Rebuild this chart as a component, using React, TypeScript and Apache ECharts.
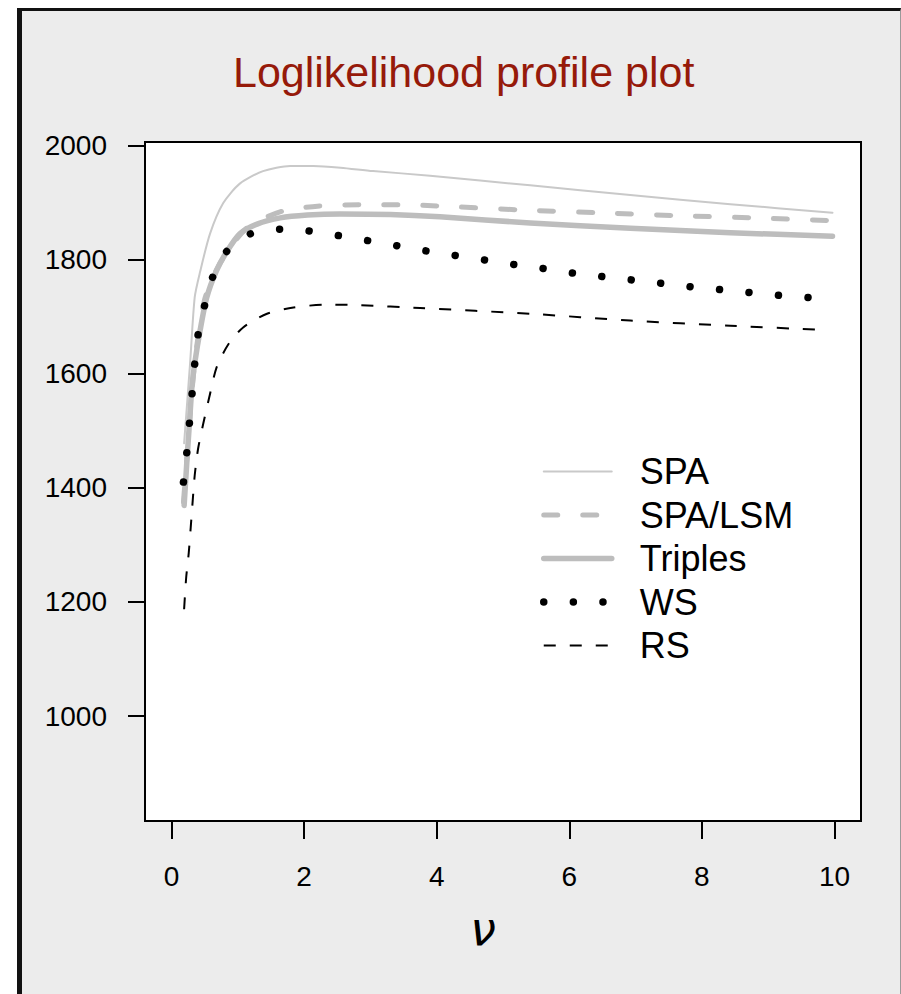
import React, { useEffect, useRef } from "react";
import * as echarts from "echarts";

const FONT = "'Liberation Sans', Arial, Helvetica, sans-serif";

const titleText = "Loglikelihood profile plot";
const xAxisName = "ν";
const xTicks = [0, 2, 4, 6, 8, 10];
const yTicks = [1000, 1200, 1400, 1600, 1800, 2000];

const spaX = [0.19, 0.28, 0.35, 0.43, 0.58, 0.78, 1.03, 1.38, 1.79, 2.14, 2.55, 3.04, 3.9, 5.41, 6.92, 8.43, 9.97];
const spaY = [1478, 1618, 1734, 1778, 1845, 1899, 1933, 1955, 1964, 1964, 1961, 1955, 1947, 1930, 1913, 1897, 1882];

const lsmX = [0.18, 0.25, 0.35, 0.5, 0.73, 1.14, 1.68, 2.24, 2.85, 3.45, 4.0, 5.26, 6.42, 7.6, 8.78, 9.97];
const lsmY = [1375, 1480, 1620, 1730, 1793, 1856, 1885, 1894, 1896, 1896, 1894, 1887, 1882, 1877, 1873, 1868];

const triX = [0.19, 0.23, 0.28, 0.31, 0.35, 0.43, 0.53, 0.68, 0.84, 1.03, 1.29, 1.64, 2.05, 2.54, 3.3, 4.05, 5.41, 6.92, 8.43, 9.97];
const triY = [1369, 1443, 1530, 1580, 1618, 1675, 1733, 1781, 1815, 1845, 1862, 1873, 1878, 1880, 1879, 1875, 1864, 1855, 1847, 1841];

const wsX = [0.18, 0.23, 0.27, 0.31, 0.35, 0.4, 0.5, 0.62, 0.83, 1.19, 1.64, 2.08, 2.52, 2.97, 3.41, 3.85, 4.29, 4.74, 5.18, 5.62, 6.07, 6.51, 6.96, 7.41, 7.85, 8.3, 8.74, 9.18, 9.64, 9.72];
const wsY = [1410, 1461, 1513, 1565, 1617, 1668, 1720, 1769, 1814, 1845, 1853, 1850, 1842, 1833, 1824, 1815, 1807, 1799, 1791, 1784, 1776, 1770, 1764, 1758, 1752, 1747, 1742, 1737, 1733, 1732];

const rsX = [0.19, 0.22, 0.26, 0.29, 0.32, 0.35, 0.4, 0.48, 0.57, 0.68, 0.86, 1.08, 1.44, 1.84, 2.34, 2.85, 3.75, 5.41, 6.92, 8.43, 9.77];
const rsY = [1187, 1241, 1286, 1331, 1378, 1422, 1468, 1513, 1559, 1611, 1652, 1681, 1705, 1716, 1721, 1720, 1715, 1705, 1693, 1684, 1677];

const seriesNames = ["SPA", "SPA/LSM", "Triples", "WS", "RS"];

const pairs = (xs: number[], ys: number[]) => xs.map((x, i) => [x, ys[i]]);

const styles = [
  { color: "#c9c9c9", width: 2, type: "solid", cap: "round" },
  { color: "#bdbdbd", width: 5, type: [14, 25], cap: "round" },
  { color: "#bdbdbd", width: 5.5, type: "solid", cap: "round" },
  { color: "#000000", width: 7.5, type: [0.01, 29.6], cap: "round" },
  { color: "#000000", width: 2, type: [12, 14], cap: "butt" },
];

const seriesData = [
  pairs(spaX, spaY),
  pairs(lsmX, lsmY),
  pairs(triX, triY),
  pairs(wsX, wsY),
  pairs(rsX, rsY),
];

export default function App() {
  const ref = useRef<HTMLDivElement>(null);
  useEffect(() => {
    if (!ref.current) return;
    const chart = echarts.init(ref.current, undefined, { renderer: "svg" });
    chart.setOption({
      animation: false,
      backgroundColor: "transparent",
      title: {
        text: titleText,
        left: 233,
        top: 50,
        padding: 0,
        textStyle: { color: "#961a0a", fontSize: 43, fontWeight: "normal", fontFamily: FONT },
      },
      grid: {
        left: 145,
        top: 142,
        width: 716,
        height: 679,
        show: true,
        backgroundColor: "#ffffff",
        borderColor: "#000000",
        borderWidth: 2,
      },
      xAxis: {
        type: "value",
        min: -0.4,
        max: 10.4,
        name: xAxisName,
        nameLocation: "middle",
        nameGap: 85,
        nameTextStyle: {
          fontSize: 46,
          fontStyle: "italic",
          fontFamily: "'DejaVu Sans', sans-serif",
          color: "#000",
          padding: [0, 40, 0, 0],
        },
        splitLine: { show: false },
        axisLine: { show: false, onZero: false },
        axisTick: { show: true, customValues: xTicks, length: 18, lineStyle: { color: "#000", width: 2 } },
        axisLabel: {
          customValues: xTicks,
          margin: 41,
          fontSize: 28,
          color: "#000",
          fontFamily: FONT,
          formatter: (v: number) => String(v),
        },
      },
      yAxis: {
        type: "value",
        min: 816,
        max: 2006,
        splitLine: { show: false },
        axisLine: { show: false, onZero: false },
        axisTick: { show: true, customValues: yTicks, length: 17, lineStyle: { color: "#000", width: 2 } },
        axisLabel: {
          customValues: yTicks,
          margin: 38,
          fontSize: 28,
          color: "#000",
          fontFamily: FONT,
          formatter: (v: number) => String(v),
        },
      },
      legend: {
        orient: "vertical",
        left: 540,
        top: 453.5,
        padding: 0,
        itemWidth: 68,
        itemHeight: 20,
        itemGap: 7.5,
        selectedMode: false,
        textStyle: { fontSize: 36, lineHeight: 36, color: "#000", fontFamily: FONT, padding: [0, 0, 0, 23] },
        data: seriesNames.map((n, i) => ({
          name: n,
          itemStyle: { opacity: 0 },
          lineStyle: { color: styles[i].color, width: styles[i].width, type: styles[i].type, cap: styles[i].cap },
        })),
      },
      series: seriesNames.map((n, i) => ({
        name: n,
        type: "line",
        data: seriesData[i],
        symbol: "none",
        smooth: 0.25,
        color: styles[i].color,
        lineStyle: { color: styles[i].color, width: styles[i].width, type: styles[i].type, cap: styles[i].cap, join: "round" },
      })),
    });
    return () => chart.dispose();
  }, []);
  return (
    <div style={{ position: "fixed", left: 0, top: 0, width: 901, height: 994, background: "#ffffff" }}>
      <div
        style={{
          position: "absolute",
          left: 17,
          top: 8,
          width: 884,
          height: 986,
          boxSizing: "border-box",
          background: "#ececec",
          borderLeft: "5px solid #111",
          borderTop: "3px solid #111",
          borderRight: "1px solid #9a9a9a",
        }}
      />
      <div ref={ref} style={{ position: "absolute", left: 0, top: 0, width: 901, height: 994 }} />
    </div>
  );
}
